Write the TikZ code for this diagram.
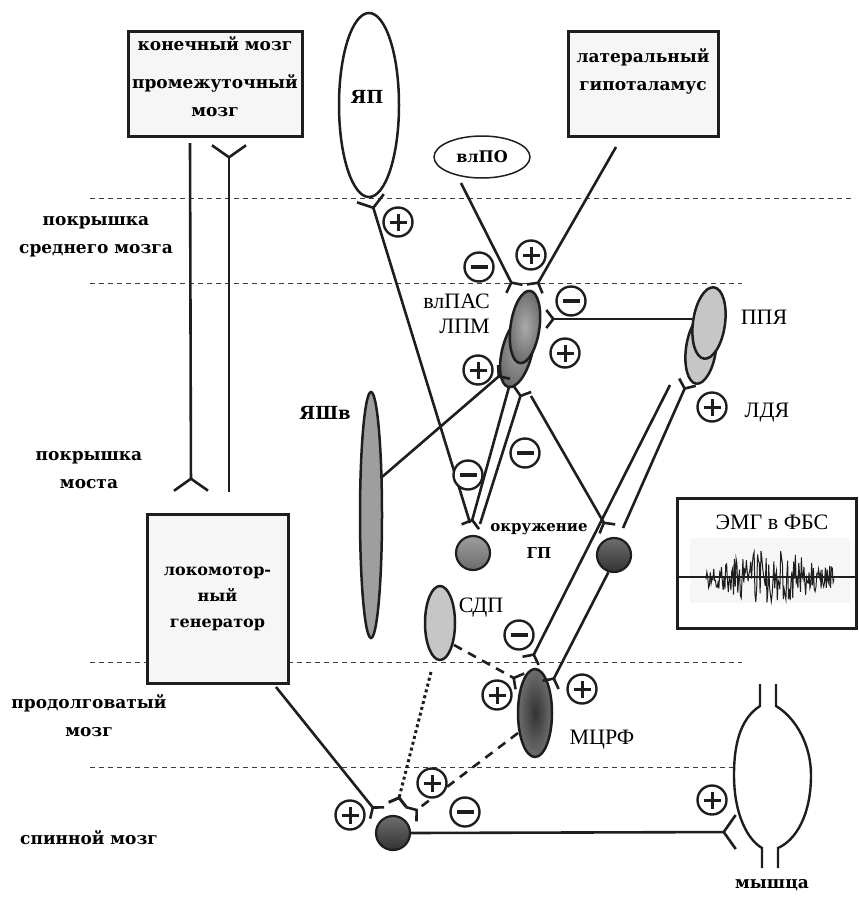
\documentclass[tikz,border=0pt]{standalone}
\usepackage{fontspec}
\setmainfont{Liberation Serif}
\newfontfamily\slab{DejaVu Serif}
\usetikzlibrary{positioning,
        shapes.geometric,
        arrows.meta}
\usepackage{xcolor}

\definecolor{ink}{HTML}{1E1E1E}
\definecolor{boxfill}{HTML}{F6F6F6}
\definecolor{guide}{HTML}{3C3C3C}
\definecolor{cellpale}{HTML}{C6C6C6}
\definecolor{cellmid}{HTML}{9E9E9E}
\definecolor{cellgray}{HTML}{6C6C6C}
\definecolor{celllight}{HTML}{ABABAB}
\definecolor{celldark}{HTML}{6E6E6E}
\definecolor{cellcore}{HTML}{333333}

\tikzset{
  zone/.style={font=\slab\bfseries\fontsize{17}{28}\selectfont, align=center, inner sep=0pt},
  tag/.style={font=\fontsize{22}{25}\selectfont, inner sep=0pt},
  btag/.style={font=\slab\bfseries\fontsize{17}{28}\selectfont, align=center, inner sep=0pt},
  area/.style={draw=ink, line width=3pt, fill=boxfill, align=center},
  cell/.style={ellipse, draw=ink, line width=2.5pt, inner sep=0pt},
  soma/.style={circle, draw=ink, line width=2.2pt, inner sep=0pt, minimum size=34pt},
  axon/.style={draw=ink, line width=2.6pt},
  syn/.style={-{Straight Barb[reversed, length=7pt, width=18pt]}},
  synmid/.style={-{Straight Barb[reversed, length=10pt, width=28pt]}},
  synbig/.style={-{Straight Barb[reversed, length=12pt, width=34pt]}},
  border/.style={draw=guide, line width=1pt, dash pattern=on 5pt off 4pt},
  signcirc/.style={circle, draw=ink, line width=2.4pt, fill=white, minimum size=29pt, inner sep=0pt},
  exc/.style={signcirc, path picture={\draw[ink, line width=3pt]
      ([xshift=-8.5pt]path picture bounding box.center) -- ([xshift=8.5pt]path picture bounding box.center)
      ([yshift=-8.5pt]path picture bounding box.center) -- ([yshift=8.5pt]path picture bounding box.center);}},
  inh/.style={signcirc, path picture={\draw[ink, line width=4pt]
      ([xshift=-8.5pt]path picture bounding box.center) -- ([xshift=8.5pt]path picture bounding box.center);}}
}

\begin{document}
\begin{tikzpicture}[x=1pt, y=-1pt]
  \useasboundingbox (0,0) rectangle (859,897);

  % levels of the brain stem
  \draw[border] (90,198) -- (855,198);
  \draw[border] (90,283) -- (742,283);
  \draw[border] (90,662) -- (742,662);
  \draw[border] (90,767) -- (735,767);

  \node[zone] (midbrain) at (96,237) {покрышка\\среднего мозга};
  \node[zone] (pons) at (89,470) {покрышка\\моста};
  \node[zone] (medulla) at (89,716) {продолговатый\\мозг};
  \node[zone] (spinal) at (89,838) {спинной мозг};

  % boxes
  \node[area, minimum width=174pt, minimum height=105pt] (fore) at (215,83.5) {};
  \node[btag] (foretxt) at (215,77) {конечный мозг\\[10pt]промежуточный\\мозг};
  \node[area, minimum width=150pt, minimum height=105pt] (lh) at (643,83.5) {};
  \node[btag] (lhtxt) at (643,71) {латеральный\\гипоталамус};
  \node[area, minimum width=141pt, minimum height=169pt,
        font=\slab\bfseries\fontsize{16}{26}\selectfont] (lg) at (217.5,598.5) {локомотор-\\ный\\генератор};
  \node[area, minimum width=179pt, minimum height=130pt, fill=white] (emg) at (766.5,563) {};
  \node[tag] (emgtxt) at (772,522) {ЭМГ в ФБС};
  \fill[boxfill] (690,538) rectangle (850,603);
  \pgfmathsetseed{7}
  \draw[ink, line width=1pt] plot[domain=706:834, samples=150]
      (\x, {577+(9+20*exp(-((\x-770)/40)^2))*rand});
  \draw[ink, line width=2pt] (677,577) -- (857,577);

  % nuclei
  \node[cell, fill=white, minimum width=60pt, minimum height=184pt] (yap) at (369,105) {};
  \node[btag, font=\slab\bfseries\fontsize{18}{20}\selectfont] (yaptxt) at (367,97) {ЯП};
  \node[cell, fill=white, line width=1.5pt, minimum width=96pt, minimum height=42pt,
        font=\slab\bfseries\fontsize{16}{18}\selectfont] (vlpo) at (482,157) {влПО};
  \node[cell, minimum width=30pt, minimum height=72pt, rotate=-14,
        inner color=cellmid, outer color=celldark] (lpm) at (517,352) {};
  \node[cell, minimum width=29pt, minimum height=73pt, rotate=-8,
        inner color=celllight, outer color=cellgray] (vlpag) at (525,327) {};
  \node[tag, align=right, anchor=east] (vlpagtxt) at (490,314) {влПАС\\ЛПМ};
  \node[cell, fill=cellpale, minimum width=30pt, minimum height=70pt, rotate=-8] (ldt) at (701,349) {};
  \node[cell, fill=cellpale, minimum width=32pt, minimum height=72pt, rotate=-8] (ppt) at (709,323) {};
  \node[tag] (ppttxt) at (764,317) {ППЯ};
  \node[tag] (ldttxt) at (767,413) {ЛДЯ};
  \node[cell, fill=cellmid, minimum width=22pt, minimum height=246pt] (shv) at (371,515) {};
  \node[btag, font=\slab\bfseries\fontsize{18}{20}\selectfont] (shvtxt) at (325,413) {ЯШв};
  \node[soma, top color=cellmid, bottom color=cellgray] (gpo) at (473,553) {};
  \node[soma, top color=celldark, bottom color=cellcore] (gpd) at (614,555) {};
  \node[btag, font=\slab\bfseries\fontsize{15}{27}\selectfont] (gptxt) at (539,541) {окружение\\ГП};
  \node[cell, fill=cellpale, minimum width=30pt, minimum height=74pt] (sdp) at (440,623) {};
  \node[tag] (sdptxt) at (481,608) {СДП};
  \node[cell, minimum width=34pt, minimum height=88pt,
        inner color=cellcore, outer color=celldark] (mcrf) at (535,713) {};
  \node[tag] (mcrftxt) at (602,740) {МЦРФ};
  \node[soma, top color=celldark, bottom color=cellcore] (mn) at (393,833) {};

  % muscle
  \fill[white] (760,706) .. controls (738,720) and (734,750) .. (734,775)
      .. controls (734,815) and (748,840) .. (762,848) -- (778,848)
      .. controls (796,840) and (811,815) .. (811,775)
      .. controls (811,745) and (796,718) .. (776,706) -- cycle;
  \draw[ink, line width=2.4pt] (760,684) -- (760,706) .. controls (738,720) and (734,750) .. (734,775)
      .. controls (734,815) and (748,840) .. (762,848) -- (762,868);
  \draw[ink, line width=2.4pt] (776,684) -- (776,706) .. controls (796,718) and (811,745) .. (811,775)
      .. controls (811,815) and (796,840) .. (778,848) -- (778,868);
  \node[zone] (muscletxt) at (772,885) {мышца};

  % synapse points
  \coordinate (foreOut) at (190,143);
  \coordinate (lgIn) at (191,492);
  \coordinate (lgOut) at (229,492);
  \coordinate (foreIn) at (229,144);
  \coordinate (gpoTop) at (470,523);
  \coordinate (yapIn) at (370,197);
  \coordinate (vlpoOut) at (461,183);
  \coordinate (lpmInA) at (515,290);
  \coordinate (lhOut) at (616,147);
  \coordinate (lpmInB) at (534,290);
  \coordinate (pptOut) at (692,319);
  \coordinate (lpmInC) at (545,319);
  \coordinate (shvOut) at (382,477);
  \coordinate (lpmInD) at (505,371);
  \coordinate (lpmOutA) at (509,387);
  \coordinate (gpoInA) at (470,528);
  \coordinate (gpoOutB) at (480,524);
  \coordinate (lpmInE) at (523,388);
  \coordinate (lpmOutB) at (531,396);
  \coordinate (gpdIn) at (608,530);
  \coordinate (gpdOut) at (623,528);
  \coordinate (ldtIn) at (688,381);
  \coordinate (ldtOut) at (670,385);
  \coordinate (mcrfInA) at (530,662);
  \coordinate (mcrfInB) at (550,686);
  \coordinate (sdpOut) at (454,645);
  \coordinate (mcrfInC) at (521,682);
  \coordinate (mcrfOut) at (518,733);
  \coordinate (mnInA) at (410,815);
  \coordinate (sdpOutB) at (431,672);
  \coordinate (mnInB) at (397,806);
  \coordinate (lgOutB) at (276,687);
  \coordinate (mnInC) at (378,814);
  \coordinate (musIn) at (737,832);

  % pathways
  \draw[axon, synbig] (foreOut) -- (lgIn);
  \draw[axon, synbig] (lgOut) -- (foreIn);
  \draw[axon, synmid] (gpoTop) -- (yapIn);
  \draw[axon, syn] (vlpoOut) -- (lpmInA);
  \draw[axon, syn] (lhOut) -- (lpmInB);
  \draw[axon, syn] (pptOut) -- (lpmInC);
  \draw[axon, syn] (shvOut) -- (lpmInD);
  \draw[axon, syn] (lpmOutA) -- (gpoInA);
  \draw[axon, syn] (gpoOutB) -- (lpmInE);
  \draw[axon, syn] (lpmOutB) -- (gpdIn);
  \draw[axon, syn] (gpdOut) -- (ldtIn);
  \draw[axon, syn] (ldtOut) -- (mcrfInA);
  \draw[axon, syn] (gpd.252) -- (mcrfInB);
  \draw[axon, syn, dash pattern=on 9pt off 7pt] (sdpOut) -- (mcrfInC);
  \draw[axon, syn, dash pattern=on 9pt off 7pt] (mcrfOut) -- (mnInA);
  \draw[axon, syn, line width=3pt, dash pattern=on 3pt off 3pt] (sdpOutB) -- (mnInB);
  \draw[axon, syn] (lgOutB) -- (mnInC);
  \draw[axon, synbig] (mn.east) -- (musIn);

  % excitation and inhibition
  \node[exc] (plus1) at (398,222) {};
  \node[inh] (minus1) at (479,267) {};
  \node[exc] (plus2) at (531,255) {};
  \node[inh] (minus2) at (571,301) {};
  \node[exc] (plus3) at (565,353) {};
  \node[exc] (plus4) at (478,370) {};
  \node[inh] (minus3) at (468,475) {};
  \node[inh] (minus4) at (525,453) {};
  \node[exc] (plus5) at (712,407) {};
  \node[inh] (minus5) at (519,635) {};
  \node[exc] (plus6) at (497,695) {};
  \node[exc] (plus7) at (582,689) {};
  \node[exc] (plus8) at (350,815) {};
  \node[exc] (plus9) at (432,783) {};
  \node[inh] (minus6) at (465,812) {};
  \node[exc] (plus10) at (712,800) {};
\end{tikzpicture}
\end{document}
